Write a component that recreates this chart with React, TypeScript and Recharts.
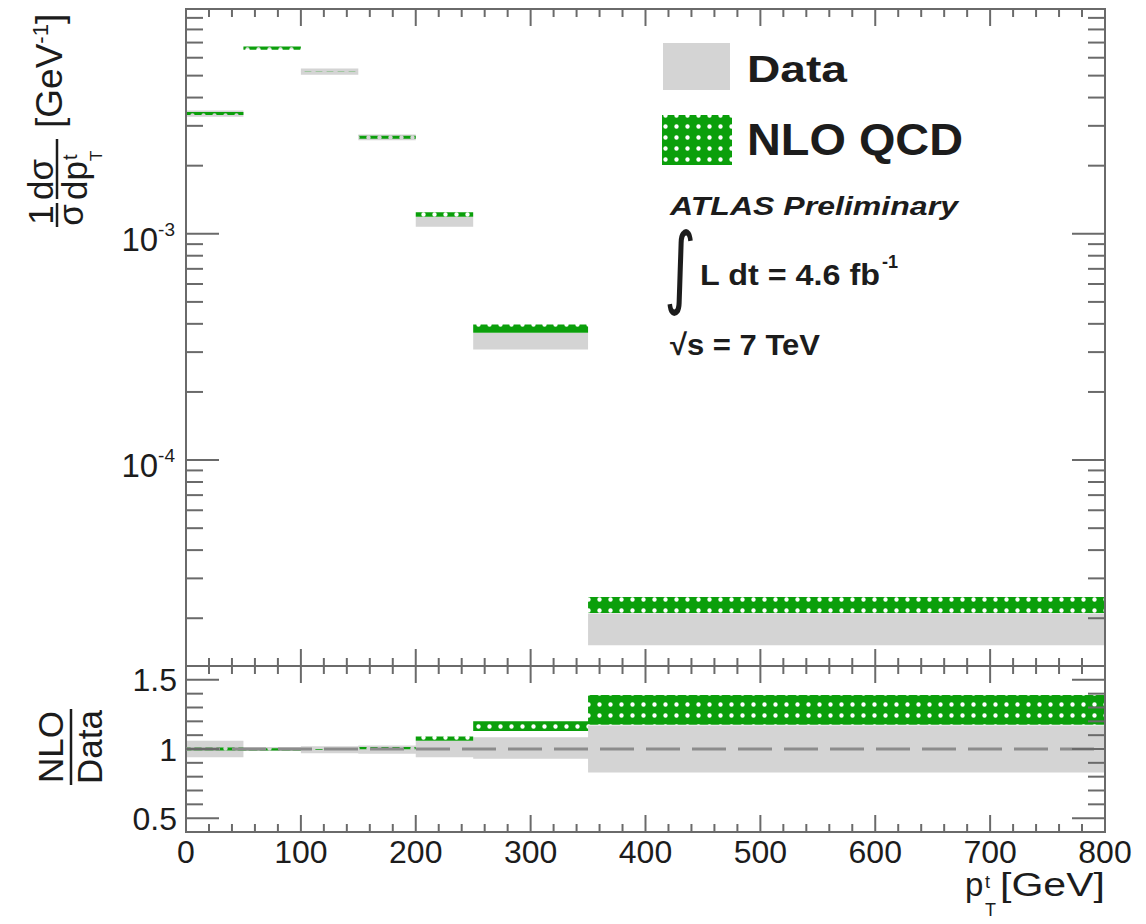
import { ComposedChart, Area, XAxis, YAxis, ReferenceArea, ReferenceLine } from 'recharts'

const binEdges = [0, 50, 100, 150, 200, 250, 350, 800]

// upper panel: 1/sigma dsigma/dpT [GeV^-1], band low / high per bin
const dataLow = [3.29e-3, 6.58e-3, 5.04e-3, 2.59e-3, 1.075e-3, 3.08e-4, 1.52e-5]
const dataHigh = [3.51e-3, 6.64e-3, 5.38e-3, 2.75e-3, 1.19e-3, 3.64e-4, 2.1e-5]
const nloLow = [3.35e-3, 6.5e-3, 5.2e-3, 2.63e-3, 1.19e-3, 3.65e-4, 2.11e-5]
const nloHigh = [3.45e-3, 6.72e-3, 5.21e-3, 2.71e-3, 1.245e-3, 3.97e-4, 2.48e-5]

// lower panel: NLO / Data
const ratioDataLow = [0.94, 0.985, 0.97, 0.965, 0.94, 0.93, 0.83]
const ratioDataHigh = [1.06, 1.015, 1.02, 1.025, 1.06, 1.085, 1.17]
const ratioNloLow = [0.99, 0.99, 0.995, 0.998, 1.06, 1.13, 1.175]
const ratioNloHigh = [1.01, 1.005, 1.0, 1.015, 1.09, 1.2, 1.39]

const xMajorTicks = [0, 100, 200, 300, 400, 500, 600, 700, 800]
const xTicks = Array.from({ length: 41 }, (_, i) => i * 20)
const logDecades = [1e-5, 1e-4, 1e-3]
const logMantissas = [1, 2, 3, 4, 5, 6, 7, 8, 9]
const ratioTicks = [0.5, 0.6, 0.7, 0.8, 0.9, 1, 1.1, 1.2, 1.3, 1.4, 1.5]
const ratioLabels: Record<string, string> = { '0.5': '0.5', '1': '1', '1.5': '1.5' }

const Y_MIN = 1.23e-5
const Y_MAX = 9.85e-3
const topYTicks = logDecades
  .flatMap((d) => logMantissas.map((m) => m * d))
  .filter((v) => v > Y_MIN && v < Y_MAX)

const PLOT_W = 919
const TOP_H = 657
const RATIO_H = 166

const AXIS = '#6a6a6a'
const INK = '#1c1c1c'
const GRAY = '#d4d4d4'
const GREEN = '#0b9f0b'
const FONT = '"Liberation Sans", Arial, Helvetica, sans-serif'

const toRows = (lo: number[], hi: number[], lo2: number[], hi2: number[]) =>
  binEdges.map((x, i) => {
    const b = Math.min(i, lo.length - 1)
    return { x, data: [lo[b], hi[b]], nlo: [lo2[b], hi2[b]] }
  })

const topRows = toRows(dataLow, dataHigh, nloLow, nloHigh)
const ratioRows = toRows(ratioDataLow, ratioDataHigh, ratioNloLow, ratioNloHigh)

function TopYTick(props: any) {
  const { x, y, payload } = props
  const lg = Math.log10(payload.value)
  const major = Math.abs(lg - Math.round(lg)) < 1e-6
  const len = major ? 33 : 17
  return (
    <g>
      <line x1={x} x2={x + len} y1={y} y2={y} stroke={AXIS} strokeWidth={2} />
      <line x1={x + PLOT_W} x2={x + PLOT_W - len} y1={y} y2={y} stroke={AXIS} strokeWidth={2} />
      {major && (
        <text x={x - 11} y={y + 17} textAnchor="end" fontSize={33} fill={INK} fontFamily={FONT}>
          10<tspan dy={-15} fontSize={19}>{Math.round(lg)}</tspan>
        </text>
      )}
    </g>
  )
}

function TopXTick(props: any) {
  const { x, y, payload } = props
  const len = payload.value % 100 === 0 ? 17 : 8
  return (
    <g>
      <line x1={x} x2={x} y1={y} y2={y - len} stroke={AXIS} strokeWidth={2} />
      <line x1={x} x2={x} y1={y - TOP_H} y2={y - TOP_H + len} stroke={AXIS} strokeWidth={2} />
    </g>
  )
}

function RatioXTick(props: any) {
  const { x, y, payload } = props
  const major = xMajorTicks.includes(payload.value)
  const len = major ? 17 : 8
  return (
    <g>
      <line x1={x} x2={x} y1={y} y2={y - len} stroke={AXIS} strokeWidth={2} />
      <line x1={x} x2={x} y1={y - RATIO_H} y2={y - RATIO_H + len} stroke={AXIS} strokeWidth={2} />
      {major && (
        <text x={x} y={y + 31} textAnchor="middle" fontSize={32} fill={INK} fontFamily={FONT}>
          {payload.value}
        </text>
      )}
    </g>
  )
}

function RatioYTick(props: any) {
  const { x, y, payload } = props
  const label = ratioLabels[String(payload.value)]
  const len = label ? 33 : 17
  return (
    <g>
      <line x1={x} x2={x + len} y1={y} y2={y} stroke={AXIS} strokeWidth={2} />
      <line x1={x + PLOT_W} x2={x + PLOT_W - len} y1={y} y2={y} stroke={AXIS} strokeWidth={2} />
      {label && (
        <text x={x - 9} y={y + 11.5} textAnchor="end" fontSize={32} fill={INK} fontFamily={FONT}>
          {label}
        </text>
      )}
    </g>
  )
}

export default function App() {
  return (
    <div style={{ position: 'absolute', left: 0, top: 0, width: 1146, height: 924, background: '#fff', overflow: 'hidden' }}>
      <div style={{ position: 'absolute', left: 0, top: 0 }}>
        <ComposedChart width={1146} height={667} data={topRows} margin={{ top: 9, right: 41, bottom: 0, left: 0 }}>
          <XAxis
            type="number"
            dataKey="x"
            domain={[0, 800]}
            allowDataOverflow
            ticks={xTicks}
            interval={0}
            height={1}
            tickSize={0}
            tickMargin={0}
            axisLine={false}
            tickLine={false}
            tick={(p: any) => <TopXTick {...p} />}
          />
          <YAxis
            type="number"
            scale="log"
            domain={[Y_MIN, Y_MAX]}
            allowDataOverflow
            ticks={topYTicks}
            interval={0}
            width={186}
            tickSize={0}
            tickMargin={0}
            axisLine={false}
            tickLine={false}
            tick={(p: any) => <TopYTick {...p} />}
          />
          <Area type="stepAfter" dataKey="data" stroke="none" fill={GRAY} fillOpacity={1} dot={false} activeDot={false} isAnimationActive={false} />
          <Area type="stepAfter" dataKey="nlo" stroke="none" fill="url(#nloDots)" fillOpacity={1} dot={false} activeDot={false} isAnimationActive={false} />
          <ReferenceArea x1={0} x2={800} y1={Y_MIN} y2={Y_MAX} fill="none" stroke={AXIS} strokeWidth={2} />
        </ComposedChart>
      </div>

      <div style={{ position: 'absolute', left: 0, top: 600 }}>
        <ComposedChart width={1146} height={324} data={ratioRows} margin={{ top: 66, right: 41, bottom: 0, left: 0 }}>
          <XAxis
            type="number"
            dataKey="x"
            domain={[0, 800]}
            allowDataOverflow
            ticks={xTicks}
            interval={0}
            height={92}
            tickSize={0}
            tickMargin={0}
            axisLine={false}
            tickLine={false}
            tick={(p: any) => <RatioXTick {...p} />}
          />
          <YAxis
            type="number"
            domain={[0.4, 1.6]}
            allowDataOverflow
            ticks={ratioTicks}
            interval={0}
            width={186}
            tickSize={0}
            tickMargin={0}
            axisLine={false}
            tickLine={false}
            tick={(p: any) => <RatioYTick {...p} />}
          />
          <Area type="stepAfter" dataKey="data" stroke="none" fill={GRAY} fillOpacity={1} dot={false} activeDot={false} isAnimationActive={false} />
          <ReferenceLine y={1} stroke="#8c8c8c" strokeWidth={3} strokeDasharray="34 12" />
          <Area type="stepAfter" dataKey="nlo" stroke="none" fill="url(#nloDots)" fillOpacity={1} dot={false} activeDot={false} isAnimationActive={false} />
          <ReferenceArea x1={0} x2={800} y1={0.4} y2={1.6} fill="none" stroke={AXIS} strokeWidth={2} />
        </ComposedChart>
      </div>

      <svg width={1146} height={924} style={{ position: 'absolute', left: 0, top: 0, pointerEvents: 'none' }} fontFamily={FONT}>
        <defs>
          <pattern id="nloDots" width={11} height={11} patternUnits="userSpaceOnUse">
            <path d="M0 0H11V11H0Z M3.3 5.5a2.2 2.2 0 1 0 4.4 0a2.2 2.2 0 1 0 -4.4 0Z" fill={GREEN} fillRule="evenodd" />
          </pattern>
        </defs>

        {/* y title, upper panel */}
        <g transform="translate(57,227) rotate(-90)" fill={INK}>
          <text x={12} y={-4} textAnchor="middle" fontSize={35}>1</text>
          <line x1={0} x2={24} y1={0} y2={0} stroke={INK} strokeWidth={2.5} />
          <text x={12} y={26} textAnchor="middle" fontSize={35}>σ</text>
          <text x={27} y={-4} fontSize={35}>dσ</text>
          <line x1={28} x2={88} y1={0} y2={0} stroke={INK} strokeWidth={2.5} />
          <text x={27} y={30} fontSize={35}>dp</text>
          <text x={67} y={20} fontSize={20}>t</text>
          <text x={66} y={45} fontSize={17}>T</text>
          <text x={99} y={5} fontSize={37}>
            [GeV<tspan dy={-14} fontSize={22}>-1</tspan><tspan dy={14}>]</tspan>
          </text>
        </g>

        {/* y title, ratio panel */}
        <g transform="translate(71,747) rotate(-90)" fill={INK}>
          <text x={0} y={-8} textAnchor="middle" fontSize={35}>NLO</text>
          <line x1={-38} x2={38} y1={0} y2={0} stroke={INK} strokeWidth={2.5} />
          <text x={0} y={31} textAnchor="middle" fontSize={35}>Data</text>
        </g>

        {/* x title */}
        <g fill={INK}>
          <text x={965} y={896} fontSize={33}>p</text>
          <text x={985} y={888} fontSize={18}>t</text>
          <text x={985} y={916} fontSize={18}>T</text>
          <text x={1000} y={896} fontSize={33} textLength={105} lengthAdjust="spacingAndGlyphs">[GeV]</text>
        </g>

        {/* legend */}
        <rect x={663} y={43} width={67} height={47} fill={GRAY} />
        <text x={747} y={82} fontSize={37} fontWeight="bold" fill={INK} textLength={100} lengthAdjust="spacingAndGlyphs">Data</text>
        <rect x={662} y={115} width={70} height={50} fill="url(#nloDots)" />
        <text x={747} y={155} fontSize={44} fontWeight="bold" fill={INK} textLength={216} lengthAdjust="spacingAndGlyphs">NLO QCD</text>

        {/* labels */}
        <text x={670} y={215} fontSize={26} fontWeight="bold" fontStyle="italic" fill={INK} textLength={288} lengthAdjust="spacingAndGlyphs">ATLAS Preliminary</text>
        <text transform="translate(664,297) scale(1,1.45)" fontSize={62} fill={INK} fontFamily='"DejaVu Sans", sans-serif'>∫</text>
        <text x={700} y={285} fontSize={30} fontWeight="bold" fill={INK} textLength={180} lengthAdjust="spacingAndGlyphs">L dt = 4.6 fb</text>
        <text x={882} y={268} fontSize={18} fontWeight="bold" fill={INK}>-1</text>
        <text x={670} y={355} fontSize={30} fontWeight="bold" fill={INK} textLength={150} lengthAdjust="spacingAndGlyphs">√s = 7 TeV</text>
      </svg>
    </div>
  )
}
